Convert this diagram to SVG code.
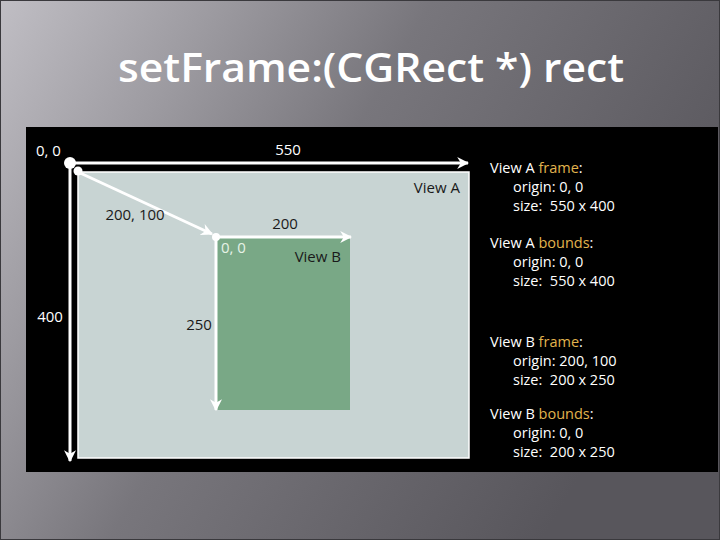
<svg xmlns="http://www.w3.org/2000/svg" width="720" height="540" viewBox="0 0 720 540">
<defs>
<linearGradient id="bg" x1="0" y1="0" x2="1" y2="0.45">
<stop offset="0" stop-color="#c0bec4"/>
<stop offset="0.25" stop-color="#9d9ba1"/>
<stop offset="0.5" stop-color="#78767c"/>
<stop offset="1" stop-color="#58565c"/>
</linearGradient>
<marker id="ah" viewBox="0 0 10 10" refX="9" refY="5" markerWidth="4" markerHeight="4" orient="auto" markerUnits="strokeWidth">
<path d="M0,0 L10,5 L0,10 L3,5 Z" fill="#ffffff"/>
</marker>
<style>
.t{font-family:"Open Sans","Noto Sans",sans-serif;font-size:15px;}
.i{font-size:14.5px;}
.w{fill:#ffffff;}
.d{fill:#1a1a1a;}
.o{fill:#e2b44e;}
.ax{stroke:#ffffff;stroke-width:3;fill:none;marker-end:url(#ah);}
</style>
</defs>
<rect x="0" y="0" width="720" height="540" fill="url(#bg)"/>
<rect x="0.5" y="0.5" width="719" height="539" fill="none" stroke="#3a393d" stroke-width="1"/>
<text x="371" y="82" text-anchor="middle" font-family="'Open Sans','Noto Sans',sans-serif" font-size="40" font-weight="600" fill="#ffffff" textLength="506" lengthAdjust="spacingAndGlyphs">setFrame:(CGRect *) rect</text>
<rect x="26" y="127" width="692" height="345" fill="#000000"/>
<g id="viewA">
<rect x="78" y="172" width="391" height="286" fill="#c8d4d3" stroke="#ffffff" stroke-width="1.5"/>
<text class="t d" x="460" y="193" text-anchor="end">View A</text>
</g>
<g id="viewB">
<rect x="216" y="237" width="134" height="173" fill="#79a886"/>
<text class="t d" x="341" y="262" text-anchor="end">View B</text>
<text class="t" x="221" y="253" fill="#e6f2e6">0, 0</text>
</g>
<g id="connectors">
<line class="ax" x1="70" y1="163" x2="468" y2="163"/>
<line class="ax" x1="70" y1="163" x2="70" y2="461"/>
<line class="ax" x1="78" y1="172" x2="212" y2="234"/>
<line class="ax" x1="216" y1="237" x2="351" y2="237"/>
<line class="ax" x1="216" y1="237" x2="216" y2="410"/>
<circle cx="70" cy="163" r="6" fill="#ffffff"/>
<circle cx="78" cy="171" r="4.5" fill="#ffffff"/>
<circle cx="216" cy="237" r="4" fill="#ffffff"/>
</g>
<g id="labels">
<text class="t w" x="36" y="156">0, 0</text>
<text class="t w" x="288" y="155" text-anchor="middle">550</text>
<text class="t w" x="50" y="322" text-anchor="middle">400</text>
<text class="t d" x="135" y="220" text-anchor="middle">200, 100</text>
<text class="t d" x="285" y="229" text-anchor="middle">200</text>
<text class="t d" x="199" y="330" text-anchor="middle">250</text>
</g>
<g id="info">
<text class="t i w" x="490" y="173">View A <tspan class="o">frame</tspan>:</text>
<text class="t i w" x="513" y="192">origin: 0, 0</text>
<text class="t i w" x="513" y="211">size:&#160; 550 x 400</text>
<text class="t i w" x="490" y="248">View A <tspan class="o">bounds</tspan>:</text>
<text class="t i w" x="513" y="267">origin: 0, 0</text>
<text class="t i w" x="513" y="286">size:&#160; 550 x 400</text>
<text class="t i w" x="490" y="347">View B <tspan class="o">frame</tspan>:</text>
<text class="t i w" x="513" y="366">origin: 200, 100</text>
<text class="t i w" x="513" y="385">size:&#160; 200 x 250</text>
<text class="t i w" x="490" y="419">View B <tspan class="o">bounds</tspan>:</text>
<text class="t i w" x="513" y="438">origin: 0, 0</text>
<text class="t i w" x="513" y="457">size:&#160; 200 x 250</text>
</g>
</svg>
